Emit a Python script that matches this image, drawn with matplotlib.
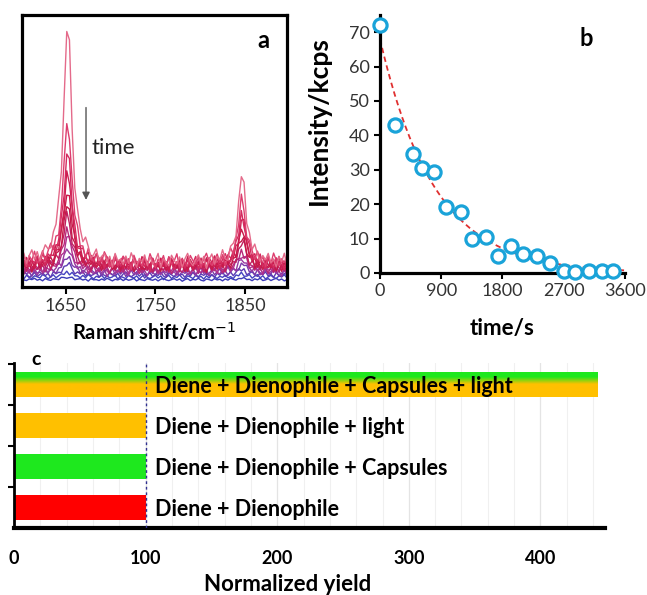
import numpy as np
import matplotlib
matplotlib.use("Agg")
import matplotlib.pyplot as plt
from matplotlib.colors import LinearSegmentedColormap

plt.rcParams["font.family"] = ["Lato", "DejaVu Sans"]
plt.rcParams["axes.linewidth"] = 2.3

# ---------------- data ----------------
# (a) Raman spectra: heights of the two bands for each spectrum (arb. units)
raman_x = np.linspace(1600, 1897, 100)
peak1_pos, peak2_pos = 1652, 1847
peak1_amp = [90, 53, 41, 34, 28, 23, 19, 15, 12, 9, 6, 4, 2, 1]
peak2_amp = [33, 23, 19, 16, 14, 11, 9, 7, 6, 5, 3, 2, 1, 0.5]
base_level = [5.5, 5.5, 5.0, 5.0, 5.0, 4.5, 4.5, 4.0, 4.0, 3.5, 3.5, 3.0, 2.5, 2.0]
noise_amp = [6.5, 6.5, 6.0, 6.0, 5.5, 5.5, 5.0, 4.5, 4.0, 3.5, 3.0, 2.5, 2.0, 1.2]
spec_colors = ["#e46a8a", "#dd3d6e", "#d42a5e", "#cc1e50", "#c81a4a", "#c41848", "#c02060",
               "#b82878", "#b0308c", "#9838a0", "#7a3aaa", "#5c3cb4", "#4444c0", "#3a3ab8"]
baseline_noise = [0.5, 0.9, 0.3, 0.7, 1.0, 0.4, 0.8, 0.2, 0.6, 0.9, 0.5, 0.3, 0.8, 0.6, 1.0, 0.4, 0.7, 0.2, 0.9, 0.5,
                  0.3, 0.8, 0.6, 0.4, 1.0, 0.7, 0.2, 0.5, 0.9, 0.3, 0.6, 0.8, 0.4, 0.7, 0.1, 0.9, 0.5, 0.6, 0.3, 0.8,
                  0.4, 1.0, 0.6, 0.2, 0.7, 0.5, 0.9, 0.3, 0.8, 0.4, 0.6, 1.0, 0.2, 0.7, 0.5, 0.3, 0.9, 0.6, 0.4, 0.8,
                  0.2, 0.7, 1.0, 0.5, 0.3, 0.6, 0.9, 0.4, 0.8, 0.1, 0.6, 0.9, 0.3, 0.7, 0.5, 1.0, 0.4, 0.2, 0.8, 0.6,
                  0.3, 0.9, 0.5, 0.7, 0.2, 0.8, 0.4, 1.0, 0.6, 0.3, 0.7, 0.5, 0.9, 0.4, 0.6, 0.2, 0.8, 0.5, 1.0, 0.3]

# (b) band intensity vs time
time_s = [0, 225, 480, 610, 795, 975, 1185, 1355, 1560, 1730, 1925, 2100, 2305, 2500, 2700, 2870, 3065, 3260, 3430]
intensity = [72, 43, 34.7, 30.4, 29.4, 19.3, 17.6, 9.8, 10.6, 5.0, 7.9, 5.6, 4.8, 2.9, 0.5, 0.3, 0.5, 0.5, 0.5]
fit_amp, fit_tau = 68.0, 800.0

# (c) normalized yield
conditions = ["Diene + Dienophile", "Diene + Dienophile + Capsules",
              "Diene + Dienophile + light", "Diene + Dienophile + Capsules + light"]
yields = [100, 100, 100, 443]
bar_colors = ["#ff0000", "#1ee81e", "#ffc000", None]

fig = plt.figure(figsize=(6.47, 5.95), dpi=100)

# ---------------- panel a ----------------
axa = fig.add_axes([0.034, 0.5176, 0.4096, 0.4572])
noise = np.array(baseline_noise)
for i in reversed(range(len(peak1_amp))):
    n = np.roll(noise, 7 * i)
    y = (base_level[i] + noise_amp[i] * n
         + peak1_amp[i] / (1 + ((raman_x - peak1_pos) / 5.5) ** 2)
         + peak2_amp[i] / (1 + ((raman_x - peak2_pos) / 5.0) ** 2))
    axa.plot(raman_x, y, color=spec_colors[i], lw=1.0)
axa.set_xlim(1601, 1897)
axa.set_ylim(0, 100)
axa.set_yticks([])
axa.set_xticks([1650, 1750, 1850])
axa.tick_params(axis="x", direction="out", length=5, width=1.5, labelsize=13, colors="black",
                labelcolor="#333333", pad=3)
axa.set_xlabel("Raman shift/cm$^{-1}$", fontsize=14.5, fontweight="bold")
axa.xaxis.set_label_coords(0.5, -0.125)
axa.text(0.91, 0.905, "a", transform=axa.transAxes, fontsize=17, fontweight="bold", ha="center", va="center")
axa.annotate("", xy=(1672.5, 31), xytext=(1672.5, 67),
             arrowprops=dict(arrowstyle="-|>", color="#555555", lw=1, mutation_scale=11))
axa.text(1679, 51, "time", fontsize=16, ha="left", va="center", color="#222222")

# ---------------- panel b ----------------
axb = fig.add_axes([0.5873, 0.5412, 0.3787, 0.4336])
t_fit = np.linspace(0, 3600, 200)
axb.plot(t_fit, fit_amp * np.exp(-t_fit / fit_tau), color="#e03030", lw=1.3, ls=(0, (3, 2)))
axb.plot(time_s, intensity, ls="none", marker="o", ms=9.5, mfc="white", mec="#1aa3d9", mew=2.3,
         clip_on=False, zorder=3)
axb.set_xlim(0, 3600)
axb.set_ylim(0, 75)
axb.set_xticks([0, 900, 1800, 2700, 3600])
axb.set_yticks(range(0, 71, 10))
for s in ["top", "right"]:
    axb.spines[s].set_visible(False)
axb.tick_params(direction="out", length=4, width=1.5, labelsize=13, labelcolor="#333333")
axb.set_xlabel("time/s", fontsize=16, fontweight="bold")
axb.xaxis.set_label_coords(0.5, -0.175)
axb.set_ylabel("Intensity/kcps", fontsize=19, fontweight="bold")
axb.yaxis.set_label_coords(-0.2, 0.59)
axb.text(0.84, 0.907, "b", transform=axb.transAxes, fontsize=17, fontweight="bold", ha="center", va="center")

# ---------------- panel c ----------------
axc = fig.add_axes([0.0216, 0.1126, 0.9134, 0.2773])
ypos = np.arange(len(conditions))
bars = axc.barh(ypos, yields, height=0.61, color=[c if c else "none" for c in bar_colors], zorder=2)
grad = LinearSegmentedColormap.from_list("gy", [(0, "#1ee81e"), (0.22, "#1ee81e"),
                                                (0.5, "#ffc000"), (1, "#ffc000")])
img = axc.imshow(np.linspace(0, 1, 100).reshape(-1, 1), cmap=grad, aspect="auto",
                 extent=[0, yields[3], 3 - 0.305, 3 + 0.305], origin="upper", zorder=2)
img.set_clip_path(bars[3])
for i, lab in enumerate(conditions):
    axc.text(107, ypos[i] - 0.06, lab, fontsize=15.5, fontweight="bold", ha="left", va="center", zorder=4)
axc.axvline(100, color="#303090", lw=1, ls=(0, (2, 2)), zorder=3)
axc.set_xlim(0, 449)
axc.set_ylim(-0.5, 3.52)
axc.set_xticks([0, 100, 200, 300, 400])
axc.set_xticks(np.arange(0, 449, 20), minor=True)
axc.grid(axis="x", which="minor", color="#f0f0f0", lw=0.8, zorder=0)
axc.grid(axis="x", which="major", color="#e4e4e4", lw=0.9, zorder=0)
axc.set_yticks([])
axc.set_yticks([0.5, 1.5, 2.5, 3.5], minor=True)
axc.tick_params(axis="y", which="minor", direction="out", length=4, width=1.5)
axc.tick_params(axis="x", which="both", length=0, labelsize=13, pad=16)
for lab in axc.get_xticklabels():
    lab.set_fontweight("bold")
for s in ["top", "right"]:
    axc.spines[s].set_visible(False)
axc.spines["bottom"].set_linewidth(3)
axc.spines["left"].set_linewidth(2)
axc.set_xlabel("Normalized yield", fontsize=16, fontweight="bold")
axc.xaxis.set_label_coords(0.463, -0.28)
axc.text(0.03, 1.02, "c", transform=axc.transAxes, fontsize=14, fontweight="bold", ha="left", va="center")

fig.savefig("out.png", dpi=100)
